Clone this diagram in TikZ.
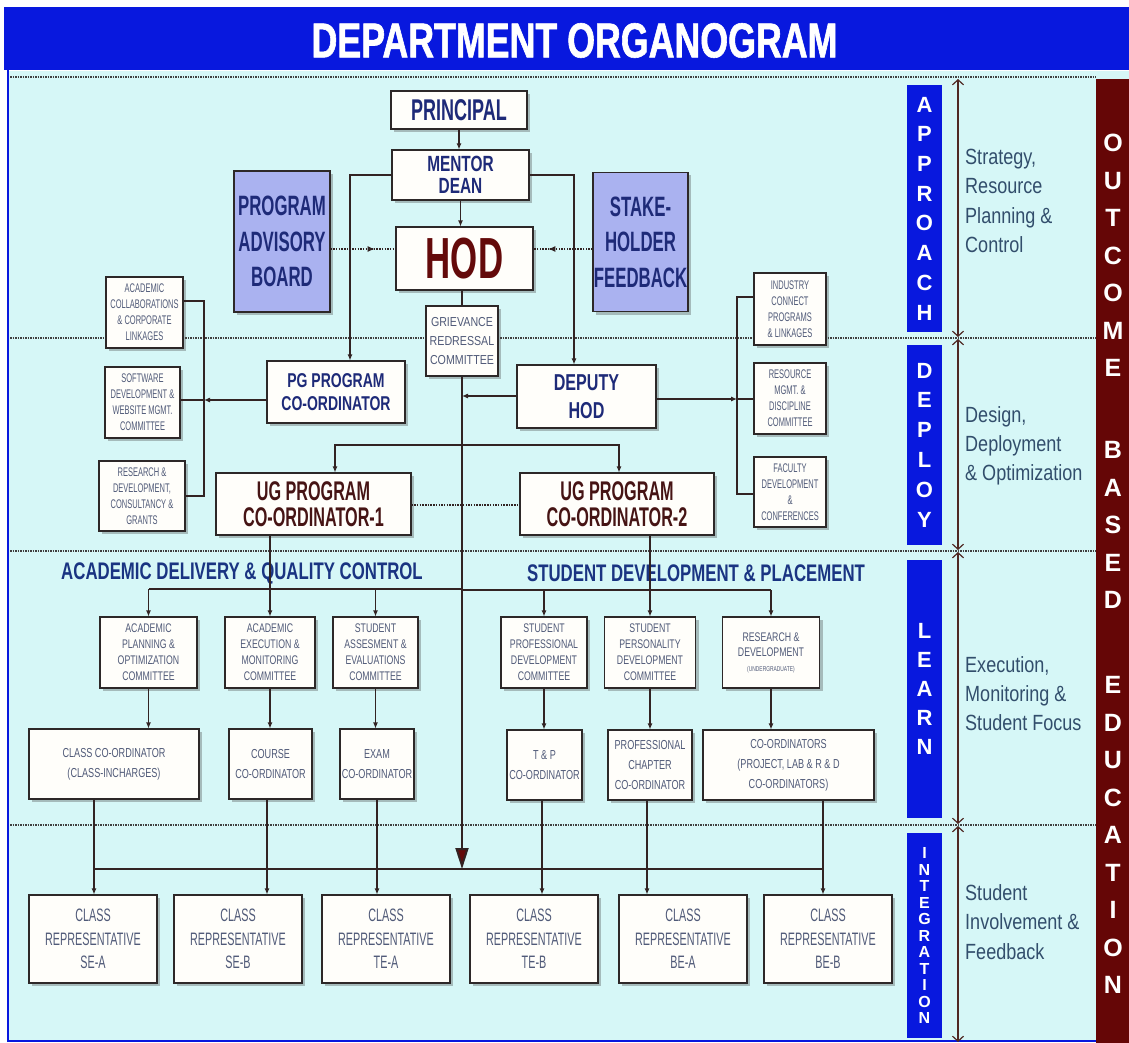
\documentclass[tikz,border=0pt]{standalone}
\usepackage{fontspec}
\setmainfont{Liberation Sans}
\newfontfamily\fT{Liberation Sans}[FakeStretch=0.73,FakeBold=1.2]
\newfontfamily\fA{Liberation Sans}[FakeStretch=0.6]
\newfontfamily\fB{Liberation Sans}[FakeStretch=0.7]
\newfontfamily\fC{Liberation Sans}[FakeStretch=0.82]
\newcommand\fsz[2]{\fontsize{#1}{#2}\selectfont}
\usetikzlibrary{arrows.meta,shadows,decorations.markings}

\definecolor{titleblue}{RGB}{8,24,222}
\definecolor{bgcyan}{RGB}{214,247,247}
\definecolor{lav}{RGB}{170,178,240}
\definecolor{maroonbar}{RGB}{101,6,6}
\definecolor{navy}{RGB}{30,42,120}
\definecolor{hodred}{RGB}{100,10,10}
\definecolor{ugred}{RGB}{70,20,20}
\definecolor{slate}{RGB}{80,90,120}
\definecolor{desc}{RGB}{50,78,108}
\definecolor{headblue}{RGB}{26,52,130}
\definecolor{linec}{RGB}{50,35,35}
\definecolor{boxline}{RGB}{45,40,40}
\definecolor{boxfill}{RGB}{255,254,250}
\definecolor{arrbrown}{RGB}{80,40,35}

\begin{document}
\begin{tikzpicture}[x=1pt,y=-1pt,
  sz/.style 2 args={minimum width=#1pt,minimum height=#2pt},
  box/.style={draw=boxline,line width=1.1pt,fill=boxfill,inner sep=0pt,align=center,
    drop shadow={shadow xshift=3pt,shadow yshift=-3pt,opacity=0.35,fill=black!70}},
  lavbox/.style={box,fill=lav,text=navy,font=\fA\bfseries\fsz{28}{35.5}},
  small/.style={box,text=slate,font=\fA\fsz{12.5}{16}},
  comm/.style={box,text=slate,font=\fB\fsz{12.5}{16}},
  coord/.style={box,text=slate,font=\fB\fsz{13}{20}},
  rep/.style={box,sz={128}{88},text=slate,font=\fA\fsz{18}{23.5}},
  bluebar/.style={fill=titleblue,inner sep=0pt,align=center,text=white,minimum width=35pt},
  obeletters/.style={text=white,align=center,inner sep=0pt,font=\bfseries\fsz{25}{37.5}},
  desctext/.style={anchor=west,align=left,text=desc,inner sep=0pt,font=\fC\fsz{22}{29.3}},
  heading/.style={text=headblue,inner sep=0pt,font=\fB\bfseries\fsz{24}{24}},
  ln/.style={draw=linec,line width=1.1pt},
  arr/.style={ln,-{Latex[length=6pt,width=5pt]}},
  dotln/.style={draw=linec,line width=1.3pt,dash pattern=on 1.5pt off 1.2pt},
  sepln/.style={draw=black!75,line width=1.6pt,dash pattern=on 1.5pt off 1pt},
  darr/.style={draw=arrbrown,line width=1.2pt,
    {Straight Barb[length=5pt,width=11pt]}-{Straight Barb[length=5pt,width=11pt]}},
  mainln/.style={draw=linec,line width=2pt,-{Triangle[length=21pt,width=13pt,fill=hodred]}},
  midarrow/.style={postaction=decorate,decoration={markings,
    mark=at position #1 with {\arrow{Latex[length=7pt,width=6pt]}}}}
]

% page, title bar and panel
\fill[white] (0,0) rectangle (1129,1043);
\useasboundingbox (0,0) rectangle (1129,1043);
\fill[titleblue] (4,7) rectangle (1129,70);
\fill[bgcyan] (8,71) rectangle (1129,1041);
\draw[titleblue,line width=2.5pt] (8,70) -- (8,1041) -- (1096,1041);
\node[font=\fT\bfseries\fsz{49}{49},text=white] (title) at (574.5,40.5) {DEPARTMENT ORGANOGRAM};

% dotted band separators
\foreach \yy in {77,338,551,825} \draw[sepln] (10,\yy) -- (1096,\yy);

% outcome based education strip
\node[fill=maroonbar,sz={33}{964},inner sep=0pt] (obe) at (1112.5,561) {};
\node[obeletters] (obe1) at (1113,255.5) {O\\U\\T\\C\\O\\M\\E};
\node[obeletters] (obe2) at (1113,525) {B\\A\\S\\E\\D};
\node[obeletters] (obe3) at (1113,835) {E\\D\\U\\C\\A\\T\\I\\O\\N};

% band labels
\node[bluebar,minimum height=247pt,font=\bfseries\fsz{22}{29.7}] (bApp) at (924.5,208.5) {A\\P\\P\\R\\O\\A\\C\\H};
\node[bluebar,minimum height=200pt,font=\bfseries\fsz{22}{29.8}] (bDep) at (924.5,445) {D\\E\\P\\L\\O\\Y};
\node[bluebar,minimum height=258pt,font=\bfseries\fsz{22}{28.8}] (bLrn) at (924.5,689) {L\\E\\A\\R\\N};
\node[bluebar,minimum height=205pt,font=\bfseries\fsz{16}{16.5}] (bInt) at (924.5,935.5) {I\\N\\T\\E\\G\\R\\A\\T\\I\\O\\N};

% band extents
\coordinate (a1) at (958,79);  \coordinate (a2) at (958,337);
\coordinate (d1) at (958,339); \coordinate (d2) at (958,550);
\coordinate (l1) at (958,552); \coordinate (l2) at (958,824);
\coordinate (i1) at (958,826); \coordinate (i2) at (958,1042);
\draw[darr] (a1) -- (a2);
\draw[darr] (d1) -- (d2);
\draw[darr] (l1) -- (l2);
\draw[darr] (i1) -- (i2);

\node[desctext] (dApp) at (965,201) {Strategy,\\Resource\\Planning \&\\Control};
\node[desctext] (dDep) at (965,446) {Design,\\Deployment\\\& Optimization};
\node[desctext] (dLrn) at (965,693.5) {Execution,\\Monitoring \&\\Student Focus};
\node[desctext] (dInt) at (965,922) {Student\\Involvement \&\\Feedback};

% top management
\node[box,sz={136}{38},text=navy,font=\fA\bfseries\fsz{30}{30}] (principal) at (459,110) {PRINCIPAL};
\node[box,sz={137}{50},text=navy,font=\fB\bfseries\fsz{22}{22}] (mentor) at (460.5,175) {MENTOR\\DEAN};
\node[box,sz={137}{63},text=hodred,font=\fA\bfseries\fsz{58}{58}] (hod) at (464.5,258.5) {HOD};
\node[lavbox,sz={96}{141}] (pab) at (282,241.5) {PROGRAM\\ADVISORY\\BOARD};
\node[lavbox,sz={95}{139}] (shf) at (640.5,242) {STAKE-\\HOLDER\\FEEDBACK};
\node[box,sz={72}{70},text=slate,font=\fC\fsz{13}{19}] (grc) at (462,341) {GRIEVANCE\\REDRESSAL\\COMMITTEE};

% deployment level
\node[box,sz={138}{62},text=navy,font=\fB\bfseries\fsz{20}{23}] (pg) at (336,392) {PG PROGRAM\\CO-ORDINATOR};
\node[box,sz={139}{63},text=navy,font=\fB\bfseries\fsz{23}{28}] (dep) at (586.5,396.5) {DEPUTY\\HOD};
\node[box,sz={195}{62},text=ugred,font=\fA\bfseries\fsz{27}{26}] (ug1) at (313.5,504) {UG PROGRAM\\CO-ORDINATOR-1};
\node[box,sz={194}{62},text=ugred,font=\fA\bfseries\fsz{27}{26}] (ug2) at (617,504) {UG PROGRAM\\CO-ORDINATOR-2};

\node[small,sz={77}{71}] (acl) at (144.5,312.5) {ACADEMIC\\COLLABORATIONS\\\& CORPORATE\\LINKAGES};
\node[small,sz={75}{71}] (swd) at (142.5,402.5) {SOFTWARE\\DEVELOPMENT \&\\WEBSITE MGMT.\\COMMITTEE};
\node[small,sz={86}{70}] (rdc) at (142,496) {RESEARCH \&\\DEVELOPMENT,\\CONSULTANCY \&\\GRANTS};
\node[small,sz={72}{72}] (icp) at (790,309) {INDUSTRY\\CONNECT\\PROGRAMS\\\& LINKAGES};
\node[small,sz={72}{71}] (rmd) at (790,398.5) {RESOURCE\\MGMT. \&\\DISCIPLINE\\COMMITTEE};
\node[small,sz={72}{70}] (fdc) at (790,492) {FACULTY\\DEVELOPMENT\\\&\\CONFERENCES};

% section headings
\node[heading] (hAcad) at (242,573) {ACADEMIC DELIVERY \& QUALITY CONTROL};
\node[heading] (hStud) at (696,573) {STUDENT DEVELOPMENT \& PLACEMENT};

% committees
\node[comm,sz={97}{71}] (apo) at (148.5,652.5) {ACADEMIC\\PLANNING \&\\OPTIMIZATION\\COMMITTEE};
\node[comm,sz={90}{71}] (aem) at (270,652.5) {ACADEMIC\\EXECUTION \&\\MONITORING\\COMMITTEE};
\node[comm,sz={85}{71}] (sae) at (375.5,652.5) {STUDENT\\ASSESMENT \&\\EVALUATIONS\\COMMITTEE};
\node[comm,sz={86}{71}] (spd) at (544,652.5) {STUDENT\\PROFESSIONAL\\DEVELOPMENT\\COMMITTEE};
\node[comm,sz={91}{71}] (spe) at (650,652.5) {STUDENT\\PERSONALITY\\DEVELOPMENT\\COMMITTEE};
\node[comm,sz={97}{71},font=\fB\fsz{12.5}{15}] (rnd) at (771,652.5) {RESEARCH \&\\DEVELOPMENT\\{\fsz{7}{13}(UNDERGRADUATE)}};

% co-ordinators
\node[coord,sz={170}{70}] (cco) at (114,764) {CLASS CO-ORDINATOR\\(CLASS-INCHARGES)};
\node[coord,sz={83}{70}] (crs) at (270.5,764) {COURSE\\CO-ORDINATOR};
\node[coord,sz={74}{70}] (exm) at (377,764) {EXAM\\CO-ORDINATOR};
\node[coord,sz={75}{70}] (tnp) at (544.5,765) {T \& P\\CO-ORDINATOR};
\node[coord,sz={84}{70}] (pcc) at (650,765) {PROFESSIONAL\\CHAPTER\\CO-ORDINATOR};
\node[coord,sz={171}{70}] (crd) at (788.5,765) {CO-ORDINATORS\\(PROJECT, LAB \& R \& D\\CO-ORDINATORS)};

% class representatives
\node[rep] (rSEA) at (93,939)  {CLASS\\REPRESENTATIVE\\SE-A};
\node[rep] (rSEB) at (238,939) {CLASS\\REPRESENTATIVE\\SE-B};
\node[rep] (rTEA) at (386,939) {CLASS\\REPRESENTATIVE\\TE-A};
\node[rep] (rTEB) at (534,939) {CLASS\\REPRESENTATIVE\\TE-B};
\node[rep] (rBEA) at (683,939) {CLASS\\REPRESENTATIVE\\BE-A};
\node[rep] (rBEB) at (828,939) {CLASS\\REPRESENTATIVE\\BE-B};

% ---- connectors ----
\draw[arr] (principal.south) -- (principal.south |- mentor.north);
\draw[arr] (mentor.south) -- (mentor.south |- hod.north);
\draw[arr] (mentor.west) -| (350,0 |- pg.north);
\draw[arr] (mentor.east) -| (574,0 |- dep.north);
\draw[dotln,midarrow=0.68] (pab.east |- 0,249) -- (hod.west |- 0,249);
\draw[dotln,midarrow=0.75] (shf.west |- 0,249) -- (hod.east |- 0,249);
\draw[ln] (grc.north |- hod.south) -- (grc.north);

% spine from the grievance committee down to the representatives
\coordinate (spineEnd) at (grc.south |- 0,869);
\draw[mainln] (grc.south) -- (spineEnd);

% left committees of the PG co-ordinator
\coordinate (lTop) at (204,301);
\coordinate (lMid) at (204,400);
\coordinate (lBot) at (204,496);
\draw[ln] (acl.east |- lTop) -- (lTop) -- (lBot) -- (rdc.east |- lBot);
\draw[arr] (pg.west |- lMid) -- (lMid);
\draw[ln] (lMid) -- (swd.east |- lMid);

% right committees of the deputy HOD
\coordinate (rTop) at (737,297);
\coordinate (rMid) at (737,399);
\coordinate (rBot) at (737,494);
\draw[ln] (icp.west |- rTop) -- (rTop) -- (rBot) -- (fdc.west |- rBot);
\draw[arr] (dep.east |- rMid) -- (rMid);
\draw[ln] (rMid) -- (rmd.west |- rMid);
\coordinate (depJ) at (grc.south |- 0,396);
\draw[arr] (dep.west |- depJ) -- (depJ);

% UG co-ordinators
\coordinate (ugJ) at (grc.south |- 0,445);
\draw[arr] (ugJ) -| (335,0 |- ug1.north);
\draw[arr] (ugJ) -| (619,0 |- ug2.north);
\draw[dotln] (ug1.east |- 0,505) -- (ug2.west |- 0,505);

% academic delivery branch
\coordinate (acJ) at (grc.south |- 0,589);
\draw[ln] (acJ) -- (apo.north |- acJ);
\draw[arr] (apo.north |- acJ) -- (apo.north);
\draw[arr] (sae.north |- acJ) -- (sae.north);
\draw[arr] (aem.north |- ug1.south) -- (aem.north);

% student development branch
\coordinate (sdJ) at (grc.south |- 0,590);
\draw[ln] (sdJ) -- (rnd.north |- sdJ);
\draw[arr] (spd.north |- sdJ) -- (spd.north);
\draw[arr] (rnd.north |- sdJ) -- (rnd.north);
\draw[arr] (spe.north |- ug2.south) -- (spe.north);

% committees to co-ordinators
\draw[arr] (apo.south) -- (apo.south |- cco.north);
\draw[arr] (aem.south) -- (aem.south |- crs.north);
\draw[arr] (sae.south) -- (sae.south |- exm.north);
\draw[arr] (spd.south) -- (spd.south |- tnp.north);
\draw[arr] (spe.south) -- (spe.south |- pcc.north);
\draw[arr] (rnd.south) -- (rnd.south |- crd.north);

% co-ordinators to class representatives
\coordinate (busL) at (94,869);
\coordinate (busR) at (823,869);
\draw[ln] (busL) -- (busR);
\draw[arr] (94,0 |- cco.south) -- (94,0 |- rSEA.north);
\draw[arr] (267,0 |- crs.south) -- (267,0 |- rSEB.north);
\draw[arr] (377,0 |- exm.south) -- (377,0 |- rTEA.north);
\draw[arr] (542,0 |- tnp.south) -- (542,0 |- rTEB.north);
\draw[arr] (647,0 |- pcc.south) -- (647,0 |- rBEA.north);
\draw[arr] (823,0 |- crd.south) -- (823,0 |- rBEB.north);

\end{tikzpicture}
\end{document}
